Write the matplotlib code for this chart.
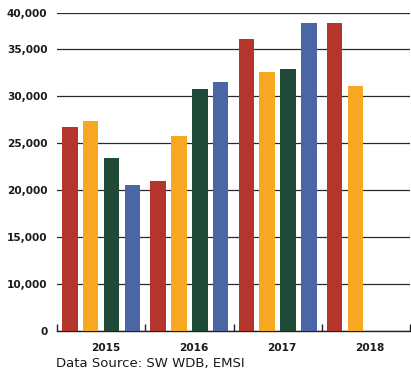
import matplotlib
matplotlib.use('Agg')
import matplotlib.pyplot as plt
import numpy as np

years = ['2015', '2016', '2017', '2018']
q1 = [26700, 21000, 36400, 38600]
q2 = [27300, 25700, 32600, 31100]
q3 = [23400, 30700, 32900, np.nan]
q4 = [20500, 31500, 38600, np.nan]
y_ticks = [0, 10000, 15000, 20000, 25000, 30000, 35000, 40000]

colors = ['#b3352c', '#f7a823', '#1e4a37', '#4b66a5']

# uneven value axis: 0-10k squeezed into one step, top step a bit shorter
vals_bp = [0, 10000, 35000, 40000]
pos_bp = [0, 47, 282, 318.3]


def fwd(v):
    return np.interp(v, vals_bp, pos_bp)


def inv(p):
    return np.interp(p, pos_bp, vals_bp)


plt.rcParams['font.family'] = ['DejaVu Sans']

fig = plt.figure(figsize=(4.11, 3.73), dpi=100)
ax = fig.add_axes([57 / 411, 42 / 373, 353 / 411, 318.3 / 373])
ax.set_yscale('function', functions=(fwd, inv))

x = np.arange(len(years))
step, width = 0.236, 0.176
for j, series in enumerate([q1, q2, q3, q4]):
    ax.bar(x + (j - 1.5) * step, series, width, color=colors[j], zorder=3)

ax.set_xlim(-0.5, 3.5)
ax.set_ylim(0, 40000)
ax.set_yticks(y_ticks)
ax.set_yticklabels([f'{v:,}' for v in y_ticks], fontsize=7.6, fontweight='bold', color='#1a1a1a')
ax.tick_params(axis='y', length=0, pad=7)
ax.yaxis.grid(True, color='#2a2a2a', lw=0.9)
ax.set_axisbelow(True)

ax.set_xticks(x + 0.05)
ax.set_xticklabels(years, fontsize=7.6, fontweight='bold', color='#1a1a1a')
ax.set_xticks(np.arange(-0.5, 4, 1), minor=True)
ax.tick_params(axis='x', which='major', length=0, pad=8.5)
ax.tick_params(axis='x', which='minor', direction='in', length=5, width=1, color='#222222')

for s in ['left', 'right', 'top']:
    ax.spines[s].set_visible(False)
ax.spines['bottom'].set_color('#222222')
ax.spines['bottom'].set_linewidth(1)

fig.text(56 / 411, 1 - 363 / 373, 'Data Source: SW WDB, EMSI', fontsize=9.5,
         color='#1a1a1a', va='center', ha='left')

fig.savefig('out.png', dpi=100)
